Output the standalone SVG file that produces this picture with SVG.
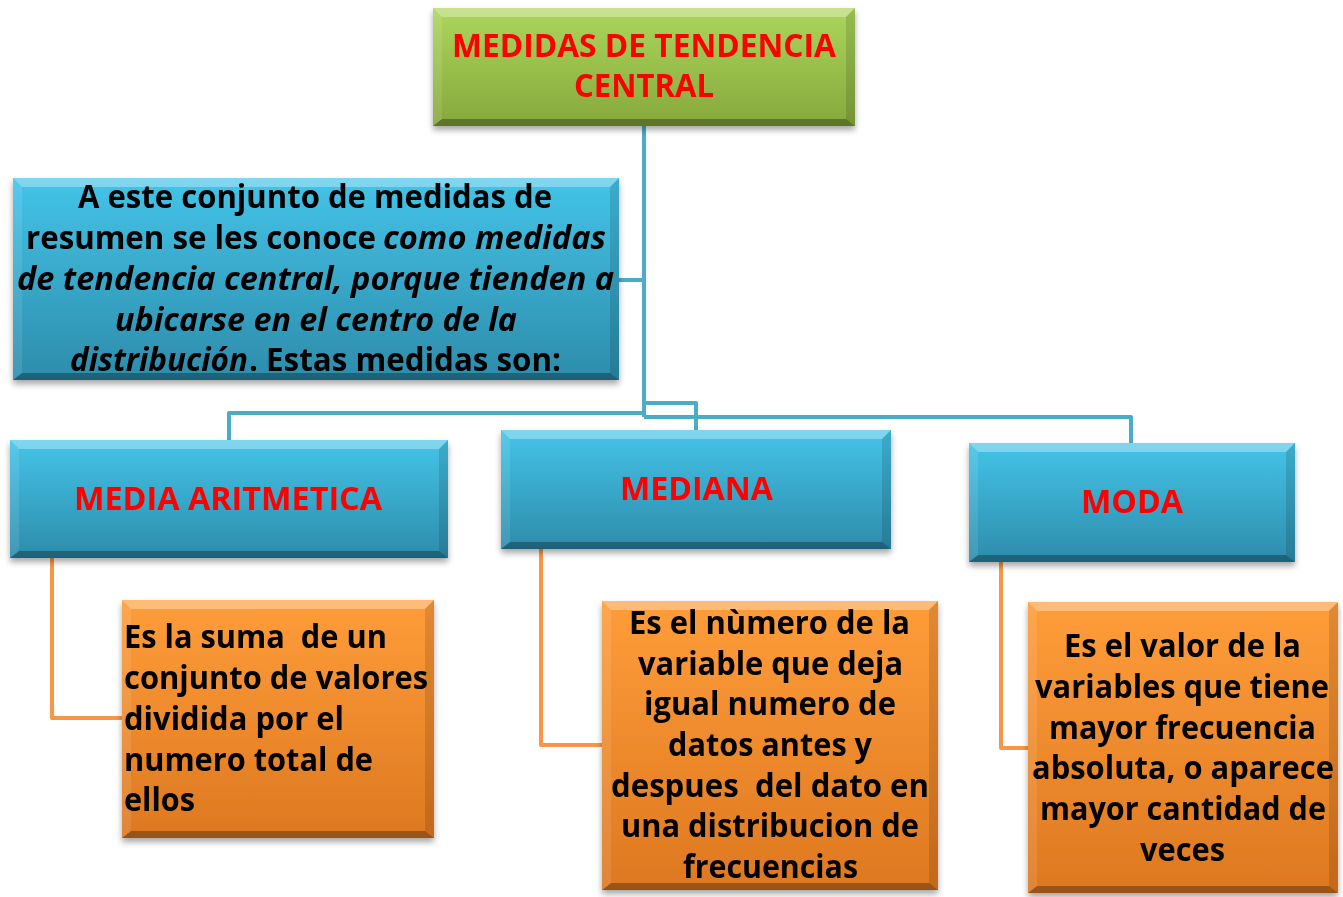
<svg xmlns="http://www.w3.org/2000/svg" width="1343" height="897" viewBox="0 0 1343 897">
<defs>
<linearGradient id="gGreen" x1="0" y1="0" x2="0" y2="1"><stop offset="0" stop-color="#acd65c"/><stop offset="1" stop-color="#86a83c"/></linearGradient>
<linearGradient id="gBlue" x1="0" y1="0" x2="0" y2="1"><stop offset="0" stop-color="#44c4e8"/><stop offset="1" stop-color="#2d8cab"/></linearGradient>
<linearGradient id="gOrange" x1="0" y1="0" x2="0" y2="1"><stop offset="0" stop-color="#ff9d3a"/><stop offset="1" stop-color="#dd7820"/></linearGradient>
<filter id="sh" x="-10%" y="-10%" width="120%" height="130%"><feDropShadow dx="0" dy="4" stdDeviation="3" flood-color="#000" flood-opacity="0.35"/></filter>
</defs>
<style>
.conn{fill:none;stroke-width:4;stroke-linejoin:round}
.cb{stroke:#4bacc6}
.co{stroke:#f79646}
.bt{fill:#fff;fill-opacity:0.32}
.bb{fill:#000;fill-opacity:0.3}
.bl{fill:#fff;fill-opacity:0.1}
.br{fill:#000;fill-opacity:0.12}
text{font-family:"Open Sans","Noto Sans","Liberation Sans",sans-serif;font-weight:bold;font-size:32px}
.red{fill:#ff0000}
.blk{fill:#000}
.it{font-style:italic}
</style>
<g id="connectors">
<path class="conn cb" d="M644 126 V417 M619 280 H644 M644 413 H229 V440 M644 403 H696 V430 M644 417 H1131 V443"/>
<path class="conn co" d="M52 558 V718 H122 M541 549 V745 H602 M1001 562 V748 H1028"/>
</g>
<g id="n-title" filter="url(#sh)">
<rect x="433" y="8" width="422" height="118" fill="url(#gGreen)"/>
<polygon class="bt" points="433,8 855,8 846,17 442,17"/>
<polygon class="bb" points="433,126 855,126 846,119 442,119"/>
<polygon class="bl" points="433,8 442,17 442,119 433,126"/>
<polygon class="br" points="855,8 846,17 846,119 855,126"/>
<text class="red" x="452" y="57" textLength="384" lengthAdjust="spacingAndGlyphs">MEDIDAS DE TENDENCIA</text>
<text class="red" x="574" y="97" textLength="140" lengthAdjust="spacingAndGlyphs">CENTRAL</text>
</g>
<g id="n-intro" filter="url(#sh)">
<rect x="13" y="178" width="606" height="202" fill="url(#gBlue)"/>
<polygon class="bt" points="13,178 619,178 610,187 22,187"/>
<polygon class="bb" points="13,380 619,380 610,373 22,373"/>
<polygon class="bl" points="13,178 22,187 22,373 13,380"/>
<polygon class="br" points="619,178 610,187 610,373 619,380"/>
<text class="blk" x="78" y="208" textLength="474" lengthAdjust="spacingAndGlyphs">A este conjunto de medidas de</text>
<text class="blk" x="26" y="249" textLength="350" lengthAdjust="spacingAndGlyphs">resumen se les conoce</text>
<text class="blk it" x="383" y="249" textLength="223" lengthAdjust="spacingAndGlyphs">como medidas</text>
<text class="blk it" x="17" y="290" textLength="597" lengthAdjust="spacingAndGlyphs">de tendencia central, porque tienden a</text>
<text class="blk it" x="115" y="331" textLength="402" lengthAdjust="spacingAndGlyphs">ubicarse en el centro de la</text>
<text class="blk it" x="70" y="371" textLength="178" lengthAdjust="spacingAndGlyphs">distribución</text>
<text class="blk" x="249" y="371" textLength="312" lengthAdjust="spacingAndGlyphs">. Estas medidas son:</text>
</g>
<g id="n-media" filter="url(#sh)">
<rect x="10" y="440" width="438" height="118" fill="url(#gBlue)"/>
<polygon class="bt" points="10,440 448,440 439,449 19,449"/>
<polygon class="bb" points="10,558 448,558 439,551 19,551"/>
<polygon class="bl" points="10,440 19,449 19,551 10,558"/>
<polygon class="br" points="448,440 439,449 439,551 448,558"/>
<text class="red" x="74" y="510" textLength="308" lengthAdjust="spacingAndGlyphs">MEDIA ARITMETICA</text>
</g>
<g id="n-mediana" filter="url(#sh)">
<rect x="501" y="430" width="390" height="119" fill="url(#gBlue)"/>
<polygon class="bt" points="501,430 891,430 882,439 510,439"/>
<polygon class="bb" points="501,549 891,549 882,542 510,542"/>
<polygon class="bl" points="501,430 510,439 510,542 501,549"/>
<polygon class="br" points="891,430 882,439 882,542 891,549"/>
<text class="red" x="620" y="500" textLength="153" lengthAdjust="spacingAndGlyphs">MEDIANA</text>
</g>
<g id="n-moda" filter="url(#sh)">
<rect x="969" y="443" width="326" height="119" fill="url(#gBlue)"/>
<polygon class="bt" points="969,443 1295,443 1286,452 978,452"/>
<polygon class="bb" points="969,562 1295,562 1286,555 978,555"/>
<polygon class="bl" points="969,443 978,452 978,555 969,562"/>
<polygon class="br" points="1295,443 1286,452 1286,555 1295,562"/>
<text class="red" x="1081" y="513" textLength="102" lengthAdjust="spacingAndGlyphs">MODA</text>
</g>
<g id="n-def-media" filter="url(#sh)">
<rect x="122" y="600" width="312" height="238" fill="url(#gOrange)"/>
<polygon class="bt" points="122,600 434,600 425,609 131,609"/>
<polygon class="bb" points="122,838 434,838 425,831 131,831"/>
<polygon class="bl" points="122,600 131,609 131,831 122,838"/>
<polygon class="br" points="434,600 425,609 425,831 434,838"/>
<text class="blk" x="124" y="648" textLength="263" lengthAdjust="spacingAndGlyphs" xml:space="preserve">Es la suma  de un</text>
<text class="blk" x="124" y="689" textLength="304" lengthAdjust="spacingAndGlyphs">conjunto de valores</text>
<text class="blk" x="124" y="730" textLength="220" lengthAdjust="spacingAndGlyphs">dividida por el</text>
<text class="blk" x="124" y="771" textLength="249" lengthAdjust="spacingAndGlyphs">numero total de</text>
<text class="blk" x="124" y="811" textLength="71" lengthAdjust="spacingAndGlyphs">ellos</text>
</g>
<g id="n-def-mediana" filter="url(#sh)">
<rect x="602" y="601" width="336" height="289" fill="url(#gOrange)"/>
<polygon class="bt" points="602,601 938,601 929,610 611,610"/>
<polygon class="bb" points="602,890 938,890 929,883 611,883"/>
<polygon class="bl" points="602,601 611,610 611,883 602,890"/>
<polygon class="br" points="938,601 929,610 929,883 938,890"/>
<text class="blk" x="629" y="634" textLength="281" lengthAdjust="spacingAndGlyphs">Es el nùmero de la</text>
<text class="blk" x="638" y="675" textLength="265" lengthAdjust="spacingAndGlyphs">variable que deja</text>
<text class="blk" x="644" y="715" textLength="252" lengthAdjust="spacingAndGlyphs">igual numero de</text>
<text class="blk" x="668" y="756" textLength="204" lengthAdjust="spacingAndGlyphs">datos antes y</text>
<text class="blk" x="611" y="797" textLength="318" lengthAdjust="spacingAndGlyphs" xml:space="preserve">despues  del dato en</text>
<text class="blk" x="621" y="837" textLength="298" lengthAdjust="spacingAndGlyphs">una distribucion de</text>
<text class="blk" x="683" y="878" textLength="175" lengthAdjust="spacingAndGlyphs">frecuencias</text>
</g>
<g id="n-def-moda" filter="url(#sh)">
<rect x="1028" y="602" width="310" height="291" fill="url(#gOrange)"/>
<polygon class="bt" points="1028,602 1338,602 1329,611 1037,611"/>
<polygon class="bb" points="1028,893 1338,893 1329,886 1037,886"/>
<polygon class="bl" points="1028,602 1037,611 1037,886 1028,893"/>
<polygon class="br" points="1338,602 1329,611 1329,886 1338,893"/>
<text class="blk" x="1064" y="657" textLength="237" lengthAdjust="spacingAndGlyphs">Es el valor de la</text>
<text class="blk" x="1035" y="698" textLength="294" lengthAdjust="spacingAndGlyphs">variables que tiene</text>
<text class="blk" x="1049" y="739" textLength="267" lengthAdjust="spacingAndGlyphs">mayor frecuencia</text>
<text class="blk" x="1032" y="779" textLength="302" lengthAdjust="spacingAndGlyphs">absoluta, o aparece</text>
<text class="blk" x="1040" y="820" textLength="286" lengthAdjust="spacingAndGlyphs">mayor cantidad de</text>
<text class="blk" x="1140" y="861" textLength="85" lengthAdjust="spacingAndGlyphs">veces</text>
</g>
</svg>
